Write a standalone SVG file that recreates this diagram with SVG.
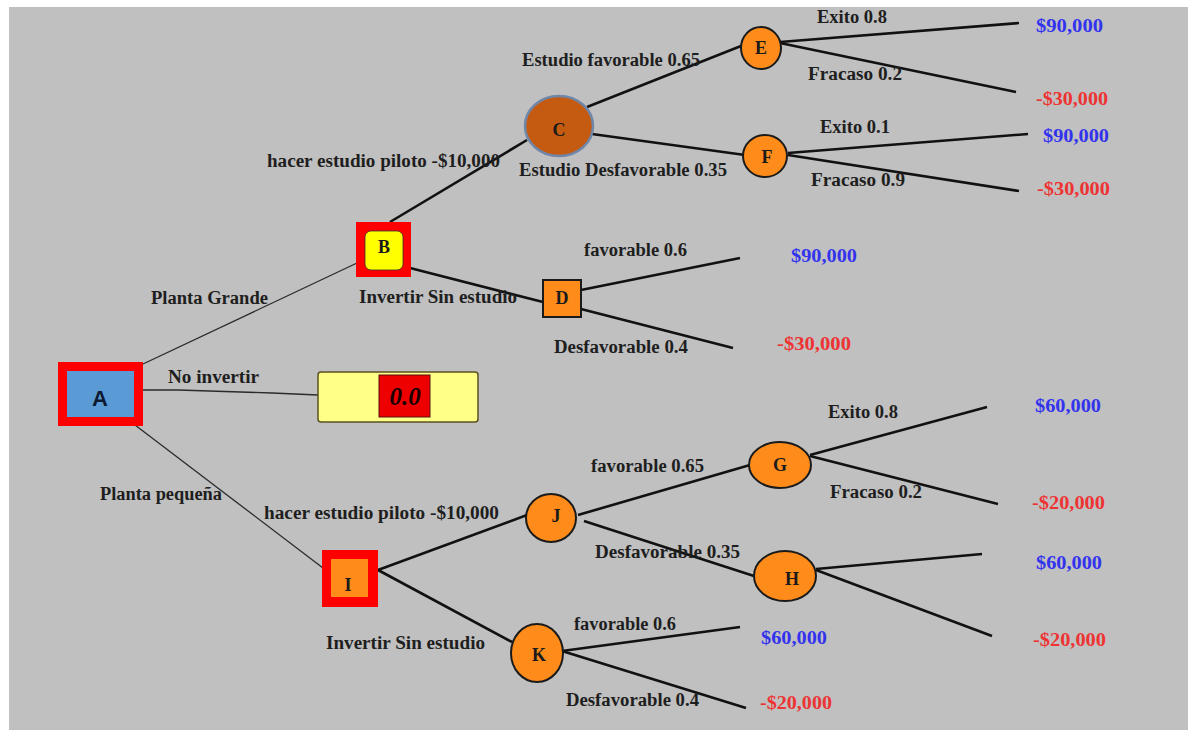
<svg xmlns="http://www.w3.org/2000/svg" width="1188" height="730" viewBox="0 0 1188 730">
<style>
text{lengthAdjust:spacingAndGlyphs}
.lbl{font-family:"Liberation Serif","Times New Roman",serif;font-weight:bold;font-size:18px;fill:#1e1e1e}
.pos{font-family:"Liberation Serif","Times New Roman",serif;font-weight:bold;font-size:18px;fill:#3333ee}
.neg{font-family:"Liberation Serif","Times New Roman",serif;font-weight:bold;font-size:18px;fill:#ee3333}
.nl{font-family:"Liberation Serif","Times New Roman",serif;font-weight:bold;font-size:18px;fill:#1a1a1a;text-anchor:middle}
.thin{stroke:#2a2a2a;stroke-width:1.3;fill:none}
.thick{stroke:#111;stroke-width:2.6;fill:none}
.chance{fill:#ff8c1a;stroke:#1a1a1a;stroke-width:2}
</style>
<rect x="0" y="0" width="1188" height="730" fill="#ffffff"/>
<rect x="9" y="7" width="1179" height="723" fill="#c0c0c0"/>

<g id="connectors">
<polyline class="thin" points="143,364 357,263"/>
<polyline class="thin" points="143,390 178,390 272,393 318,395"/>
<polyline class="thin" points="135,425 323,568"/>
<polyline class="thick" points="390,222 527,140"/>
<polyline class="thick" points="410,268 543,302"/>
<polyline class="thick" points="587,107 741,46"/>
<polyline class="thick" points="592,134 745,155"/>
<polyline class="thick" points="780,42 1019,23"/>
<polyline class="thick" points="780,43 1016,92"/>
<polyline class="thick" points="788,153 1028,134"/>
<polyline class="thick" points="788,155 1019,191"/>
<polyline class="thick" points="581,290 740,258"/>
<polyline class="thick" points="581,309 733,348"/>
<polyline class="thick" points="378,570 527,515"/>
<polyline class="thick" points="378,570 512,642"/>
<polyline class="thick" points="578,515 750,465"/>
<polyline class="thick" points="584,521 754,576"/>
<polyline class="thick" points="810,455 987,407"/>
<polyline class="thick" points="810,456 998,504"/>
<polyline class="thick" points="816,569 982,554"/>
<polyline class="thick" points="816,570 992,636"/>
<polyline class="thick" points="562,651 740,627"/>
<polyline class="thick" points="562,651 746,708"/>
</g>

<g id="node-A">
<rect x="58" y="362" width="85" height="64" fill="#ff0000"/>
<rect x="67" y="371" width="67" height="46" fill="#5b9bd5"/>
<text x="100" y="406" text-anchor="middle" font-family="Liberation Sans, Arial, sans-serif" font-weight="bold" font-size="22" fill="#0d1a33">A</text>
</g>
<g id="node-B">
<rect x="356" y="222" width="55" height="55" fill="#ff0000"/>
<rect x="365" y="231" width="38" height="39" rx="6" fill="#ffff00" stroke="#333" stroke-width="0.8"/>
<text class="nl" x="384" y="253">B</text>
</g>
<g id="node-C">
<ellipse cx="559" cy="126" rx="34" ry="30" fill="#c55a11" stroke="#6f86a8" stroke-width="2.5"/>
<text class="nl" x="559" y="136" fill="#3a1a00">C</text>
</g>
<g id="node-D">
<rect x="543" y="280" width="38" height="37" fill="#ff8c1a" stroke="#1a1a1a" stroke-width="2"/>
<text class="nl" x="562" y="304">D</text>
</g>
<g id="node-E">
<ellipse class="chance" cx="761" cy="48" rx="20" ry="21"/>
<text class="nl" x="761" y="54">E</text>
</g>
<g id="node-F">
<ellipse class="chance" cx="765" cy="156" rx="22" ry="21"/>
<text class="nl" x="767" y="163">F</text>
</g>
<g id="node-zero">
<rect x="318" y="372" width="160" height="50" rx="3" fill="#ffff88" stroke="#5a5020" stroke-width="1.5"/>
<rect x="379" y="375" width="51" height="42" fill="#ee0000" stroke="#5a1010" stroke-width="1"/>
<text x="405" y="405" text-anchor="middle" font-family="Liberation Serif, Times New Roman, serif" font-weight="bold" font-style="italic" font-size="25" fill="#1a0000">0.0</text>
</g>
<g id="node-I">
<rect x="322" y="550" width="56" height="57" fill="#ff0000"/>
<rect x="331" y="559" width="37" height="38" fill="#ff8c1a"/>
<text class="nl" x="348" y="591">I</text>
</g>
<g id="node-J">
<ellipse class="chance" cx="551" cy="518" rx="25" ry="24"/>
<text class="nl" x="556" y="522">J</text>
</g>
<g id="node-K">
<ellipse class="chance" cx="537" cy="653" rx="26" ry="29"/>
<text class="nl" x="539" y="661">K</text>
</g>
<g id="node-G">
<ellipse class="chance" cx="780" cy="465" rx="31" ry="23"/>
<text class="nl" x="780" y="471">G</text>
</g>
<g id="node-H">
<ellipse class="chance" cx="785" cy="576" rx="31" ry="25"/>
<text class="nl" x="792" y="585">H</text>
</g>

<g id="labels">
<text class="lbl" x="267" y="167" textLength="233" lengthAdjust="spacingAndGlyphs">hacer estudio piloto -$10,000</text>
<text class="lbl" x="522" y="66" textLength="178" lengthAdjust="spacingAndGlyphs">Estudio favorable 0.65</text>
<text class="lbl" x="519" y="176" textLength="208" lengthAdjust="spacingAndGlyphs">Estudio Desfavorable 0.35</text>
<text class="lbl" x="817" y="23" textLength="70" lengthAdjust="spacingAndGlyphs">Exito 0.8</text>
<text class="lbl" x="808" y="80" textLength="94" lengthAdjust="spacingAndGlyphs">Fracaso 0.2</text>
<text class="lbl" x="820" y="133" textLength="70" lengthAdjust="spacingAndGlyphs">Exito 0.1</text>
<text class="lbl" x="811" y="186" textLength="94" lengthAdjust="spacingAndGlyphs">Fracaso 0.9</text>
<text class="pos" x="1036" y="32" textLength="67" lengthAdjust="spacingAndGlyphs">$90,000</text>
<text class="neg" x="1036" y="105" textLength="72" lengthAdjust="spacingAndGlyphs">-$30,000</text>
<text class="pos" x="1043" y="142" textLength="66" lengthAdjust="spacingAndGlyphs">$90,000</text>
<text class="neg" x="1037" y="195" textLength="73" lengthAdjust="spacingAndGlyphs">-$30,000</text>
<text class="lbl" x="584" y="256" textLength="103" lengthAdjust="spacingAndGlyphs">favorable 0.6</text>
<text class="pos" x="791" y="262" textLength="66" lengthAdjust="spacingAndGlyphs">$90,000</text>
<text class="lbl" x="359" y="303" textLength="158" lengthAdjust="spacingAndGlyphs">Invertir Sin estudio</text>
<text class="lbl" x="554" y="353" textLength="134" lengthAdjust="spacingAndGlyphs">Desfavorable 0.4</text>
<text class="neg" x="777" y="350" textLength="74" lengthAdjust="spacingAndGlyphs">-$30,000</text>
<text class="lbl" x="151" y="304" textLength="117" lengthAdjust="spacingAndGlyphs">Planta Grande</text>
<text class="lbl" x="168" y="383" textLength="91" lengthAdjust="spacingAndGlyphs">No invertir</text>
<text class="lbl" x="100" y="500" textLength="122" lengthAdjust="spacingAndGlyphs">Planta pequeña</text>
<text class="lbl" x="264" y="519" textLength="235" lengthAdjust="spacingAndGlyphs">hacer estudio piloto -$10,000</text>
<text class="lbl" x="326" y="649" textLength="159" lengthAdjust="spacingAndGlyphs">Invertir Sin estudio</text>
<text class="lbl" x="591" y="472" textLength="113" lengthAdjust="spacingAndGlyphs">favorable 0.65</text>
<text class="lbl" x="595" y="558" textLength="145" lengthAdjust="spacingAndGlyphs">Desfavorable 0.35</text>
<text class="lbl" x="574" y="630" textLength="102" lengthAdjust="spacingAndGlyphs">favorable 0.6</text>
<text class="lbl" x="566" y="706" textLength="133" lengthAdjust="spacingAndGlyphs">Desfavorable 0.4</text>
<text class="lbl" x="828" y="418" textLength="70" lengthAdjust="spacingAndGlyphs">Exito 0.8</text>
<text class="lbl" x="830" y="498" textLength="92" lengthAdjust="spacingAndGlyphs">Fracaso 0.2</text>
<text class="pos" x="1035" y="412" textLength="66" lengthAdjust="spacingAndGlyphs">$60,000</text>
<text class="neg" x="1032" y="509" textLength="73" lengthAdjust="spacingAndGlyphs">-$20,000</text>
<text class="pos" x="1036" y="569" textLength="66" lengthAdjust="spacingAndGlyphs">$60,000</text>
<text class="neg" x="1033" y="646" textLength="73" lengthAdjust="spacingAndGlyphs">-$20,000</text>
<text class="pos" x="761" y="644" textLength="66" lengthAdjust="spacingAndGlyphs">$60,000</text>
<text class="neg" x="760" y="709" textLength="72" lengthAdjust="spacingAndGlyphs">-$20,000</text>
</g>
</svg>
